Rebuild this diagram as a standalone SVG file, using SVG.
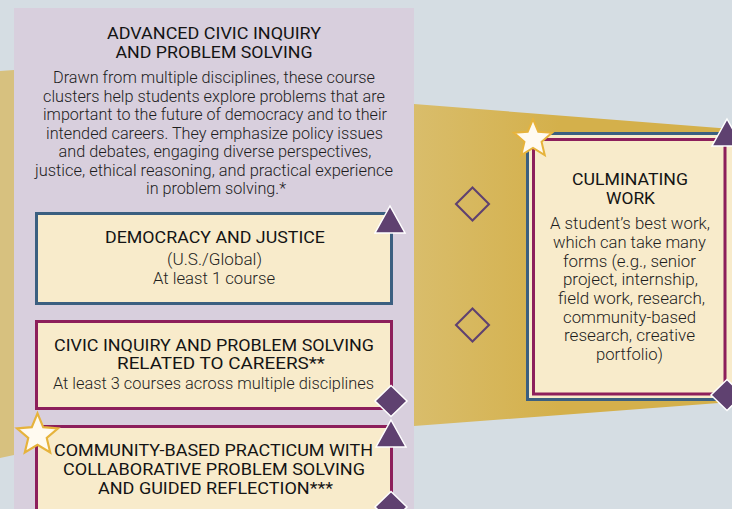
<svg xmlns="http://www.w3.org/2000/svg" xmlns:xlink="http://www.w3.org/1999/xlink" width="732" height="509" viewBox="0 0 732 509">
<defs>
<linearGradient id="goldGrad" gradientUnits="userSpaceOnUse" x1="414" y1="0" x2="560" y2="0">
<stop offset="0" stop-color="#d9bd6b"/>
<stop offset="1" stop-color="#d4b04b"/>
</linearGradient>
<path id="star" d="M0,-20 L5.29,-7.28 L19.02,-6.18 L8.56,2.78 L11.76,16.18 L0,9 L-11.76,16.18 L-8.56,2.78 L-19.02,-6.18 L-5.29,-7.28 Z"/>
<path id="tri" d="M0,-14 L15,13 L-15,13 Z"/>
<path id="dia" d="M0,-15.5 L16,0 L0,15.5 L-16,0 Z"/>
</defs>
<style>
.cap{font-family:Roboto,"Liberation Sans",sans-serif;font-size:16.5px;font-weight:400;fill:#141414;text-anchor:middle}
.body{font-family:Roboto,"Liberation Sans",sans-serif;font-size:17px;font-weight:300;fill:#1e1e1e;text-anchor:middle}
.box{fill:#f8ebcb;stroke-width:3}
.blue{stroke:#3b5f80}
.mag{stroke:#8d1f5b}
.mark{fill:#5f4170;stroke:#ffffff;stroke-width:1.5;stroke-linejoin:miter}
.star{fill:#fffaf0;stroke:#e6b33c;stroke-width:2;stroke-linejoin:miter}
.hollow{fill:none;stroke:#5f4170;stroke-width:2}
</style>
<rect width="732" height="509" fill="#d5dde3"/>
<polygon points="0,71 14,70 14,455 0,458" fill="#d7c17f"/>
<polygon points="414,104 732,129 732,402 414,426" fill="url(#goldGrad)"/>
<rect x="14" y="8" width="400" height="501" fill="#d8cfdd"/>

<g id="header">
<text class="cap" x="214" y="39" textLength="214" lengthAdjust="spacingAndGlyphs">ADVANCED CIVIC INQUIRY</text>
<text class="cap" x="214" y="57.5" textLength="197" lengthAdjust="spacingAndGlyphs">AND PROBLEM SOLVING</text>
<text class="body" x="214" y="83" textLength="322" lengthAdjust="spacingAndGlyphs">Drawn from multiple disciplines, these course</text>
<text class="body" x="214" y="101.5" textLength="342" lengthAdjust="spacingAndGlyphs">clusters help students explore problems that are</text>
<text class="body" x="215" y="120" textLength="344" lengthAdjust="spacingAndGlyphs">important to the future of democracy and to their</text>
<text class="body" x="214.5" y="138.5" textLength="337" lengthAdjust="spacingAndGlyphs">intended careers. They emphasize policy issues</text>
<text class="body" x="215" y="157" textLength="313" lengthAdjust="spacingAndGlyphs">and debates, engaging diverse perspectives,</text>
<text class="body" x="214" y="175.5" textLength="358" lengthAdjust="spacingAndGlyphs">justice, ethical reasoning, and practical experience</text>
<text class="body" x="216" y="194" textLength="140" lengthAdjust="spacingAndGlyphs">in problem solving.*</text>
</g>

<g id="democracy">
<rect class="box blue" x="36.5" y="213.5" width="355" height="90"/>
<text class="cap" x="215" y="243" textLength="220" lengthAdjust="spacingAndGlyphs">DEMOCRACY AND JUSTICE</text>
<text class="body" x="214.5" y="265" textLength="95" lengthAdjust="spacingAndGlyphs">(U.S./Global)</text>
<text class="body" x="214" y="284" textLength="122" lengthAdjust="spacingAndGlyphs">At least 1 course</text>
<use xlink:href="#tri" class="mark" x="390" y="220"/>
</g>

<g id="careers">
<rect class="box mag" x="36.5" y="321.5" width="355" height="87"/>
<text class="cap" x="214" y="351" textLength="320" lengthAdjust="spacingAndGlyphs">CIVIC INQUIRY AND PROBLEM SOLVING</text>
<text class="cap" x="221" y="369" textLength="208" lengthAdjust="spacingAndGlyphs">RELATED TO CAREERS**</text>
<text class="body" x="213.5" y="389" textLength="321" lengthAdjust="spacingAndGlyphs">At least 3 courses across multiple disciplines</text>
<use xlink:href="#dia" class="mark" x="391" y="401"/>
</g>

<g id="practicum">
<rect class="box mag" x="36.5" y="426.5" width="355" height="100"/>
<text class="cap" x="213.5" y="456" textLength="319" lengthAdjust="spacingAndGlyphs">COMMUNITY-BASED PRACTICUM WITH</text>
<text class="cap" x="214" y="475" textLength="302" lengthAdjust="spacingAndGlyphs">COLLABORATIVE PROBLEM SOLVING</text>
<text class="cap" x="215.5" y="494" textLength="235" lengthAdjust="spacingAndGlyphs">AND GUIDED REFLECTION***</text>
<use xlink:href="#tri" class="mark" x="391" y="434"/>
<use xlink:href="#dia" class="mark" x="391" y="507"/>
<use xlink:href="#star" class="star" transform="translate(37.5,435) scale(1.08)"/>
</g>

<g id="connectors">
<use xlink:href="#dia" class="hollow" transform="translate(472.5,204) scale(1.03,1.07)"/>
<use xlink:href="#dia" class="hollow" transform="translate(472.5,325) scale(1.03,1.07)"/>
</g>

<g id="culminating">
<rect x="527.5" y="133.5" width="210" height="266" fill="#f8ebcb" stroke="#3b5f80" stroke-width="3"/>
<rect x="533.5" y="139.5" width="191.5" height="254.5" fill="none" stroke="#8d1f5b" stroke-width="3"/>
<text class="cap" x="630" y="185" textLength="116" lengthAdjust="spacingAndGlyphs">CULMINATING</text>
<text class="cap" x="630.5" y="203.5" textLength="49" lengthAdjust="spacingAndGlyphs">WORK</text>
<text class="body" x="630" y="229" textLength="160" lengthAdjust="spacingAndGlyphs">A student’s best work,</text>
<text class="body" x="629.5" y="248" textLength="153" lengthAdjust="spacingAndGlyphs">which can take many</text>
<text class="body" x="629.5" y="266.5" textLength="133" lengthAdjust="spacingAndGlyphs">forms (e.g., senior</text>
<text class="body" x="630.5" y="285" textLength="135" lengthAdjust="spacingAndGlyphs">project, internship,</text>
<text class="body" x="631.5" y="304" textLength="147" lengthAdjust="spacingAndGlyphs">field work, research,</text>
<text class="body" x="629.5" y="322.5" textLength="133" lengthAdjust="spacingAndGlyphs">community-based</text>
<text class="body" x="629.5" y="341" textLength="131" lengthAdjust="spacingAndGlyphs">research, creative</text>
<text class="body" x="629.5" y="360" textLength="67" lengthAdjust="spacingAndGlyphs">portfolio)</text>
<use xlink:href="#tri" class="mark" x="727" y="133"/>
<use xlink:href="#dia" class="mark" x="727" y="395"/>
<use xlink:href="#star" class="star" x="533" y="139"/>
</g>
</svg>
